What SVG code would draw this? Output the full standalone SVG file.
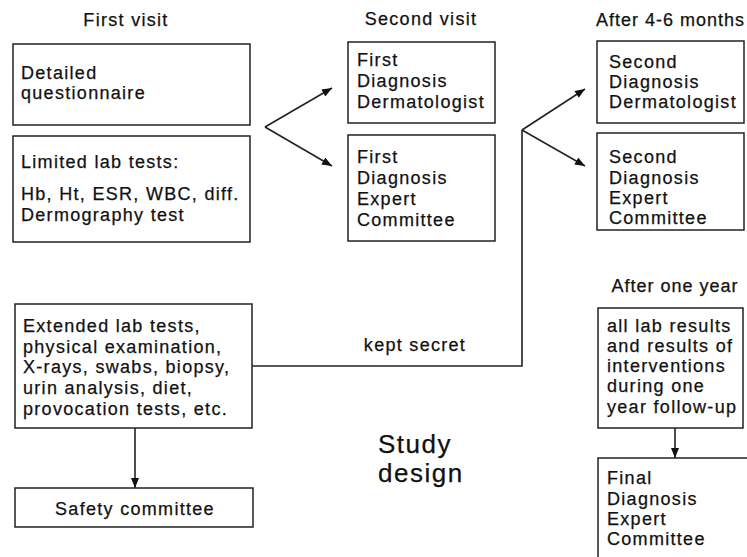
<svg xmlns="http://www.w3.org/2000/svg" width="747" height="557" viewBox="0 0 747 557">
<style>
text{font-family:"Liberation Sans",Arial,sans-serif;font-size:18px;letter-spacing:1.3px;fill:#111;stroke:#111;stroke-width:0.25}
.box{fill:#fff;stroke:#222;stroke-width:1.5}
.c{fill:none;stroke:#222;stroke-width:1.6}
.big{font-size:26px;letter-spacing:1.5px}
.tight{letter-spacing:1px}
</style>
<defs>
<marker id="ah" viewBox="0 0 10 8" refX="10" refY="4" markerWidth="11" markerHeight="8" markerUnits="userSpaceOnUse" orient="auto">
<path d="M0,0 L10,4 L0,8 z" fill="#111"/>
</marker>
</defs>
<rect width="747" height="557" fill="#fff"/>
<g id="headers">
<text x="126" y="26" text-anchor="middle">First visit</text>
<text x="421" y="25" text-anchor="middle">Second visit</text>
<text class="tight" x="596" y="26">After 4-6 months</text>
<text class="tight" x="675" y="292" text-anchor="middle">After one year</text>
</g>
<g id="connectors">
<line class="c" x1="265" y1="127" x2="332" y2="88" marker-end="url(#ah)"/>
<line class="c" x1="265" y1="127" x2="332" y2="166" marker-end="url(#ah)"/>
<polyline class="c" points="252,366 522,366 522,130"/>
<line class="c" x1="522" y1="130" x2="585" y2="89" marker-end="url(#ah)"/>
<line class="c" x1="522" y1="130" x2="585" y2="166" marker-end="url(#ah)"/>
<line class="c" x1="135" y1="428" x2="135" y2="488" marker-end="url(#ah)"/>
<line class="c" x1="675" y1="428" x2="675" y2="458" marker-end="url(#ah)"/>
<text x="415" y="351" text-anchor="middle">kept secret</text>
</g>
<g id="questionnaire">
<rect class="box" x="13" y="44" width="237" height="81"/>
<text x="21" y="79">Detailed</text>
<text x="21" y="99">questionnaire</text>
</g>
<g id="limited-lab">
<rect class="box" x="13" y="136" width="237" height="106"/>
<text x="21" y="168">Limited lab tests:</text>
<text x="21" y="200">Hb, Ht, ESR, WBC, diff.</text>
<text x="21" y="221">Dermography test</text>
</g>
<g id="first-diag-derm">
<rect class="box" x="348" y="42" width="147" height="81"/>
<text x="357" y="66">First</text>
<text x="357" y="87">Diagnosis</text>
<text x="357" y="108">Dermatologist</text>
</g>
<g id="first-diag-expert">
<rect class="box" x="348" y="135" width="147" height="106"/>
<text x="357" y="163">First</text>
<text x="357" y="184">Diagnosis</text>
<text x="357" y="205">Expert</text>
<text x="357" y="226">Committee</text>
</g>
<g id="second-diag-derm">
<rect class="box" x="597" y="41" width="147" height="82"/>
<text x="609" y="68">Second</text>
<text x="609" y="88">Diagnosis</text>
<text x="609" y="108">Dermatologist</text>
</g>
<g id="second-diag-expert">
<rect class="box" x="597" y="133" width="147" height="97"/>
<text x="609" y="163">Second</text>
<text x="609" y="184">Diagnosis</text>
<text x="609" y="204">Expert</text>
<text x="609" y="224">Committee</text>
</g>
<g id="extended-lab">
<rect class="box" x="15" y="304" width="237" height="124"/>
<text x="23" y="332">Extended lab tests,</text>
<text x="23" y="353">physical examination,</text>
<text x="23" y="373">X-rays, swabs, biopsy,</text>
<text x="23" y="394">urin analysis, diet,</text>
<text x="23" y="415">provocation tests, etc.</text>
</g>
<g id="safety">
<rect class="box" x="15" y="488" width="238" height="39"/>
<text x="135" y="515" text-anchor="middle">Safety committee</text>
</g>
<g id="all-lab">
<rect class="box" x="598" y="308" width="145" height="120"/>
<text x="607" y="332">all lab results</text>
<text x="607" y="352">and results of</text>
<text x="607" y="372">interventions</text>
<text x="607" y="392">during one</text>
<text x="607" y="413">year follow-up</text>
</g>
<g id="final-diag">
<rect class="box" x="598" y="458" width="170" height="120"/>
<text x="607" y="484">Final</text>
<text x="607" y="505">Diagnosis</text>
<text x="607" y="525">Expert</text>
<text x="607" y="545">Committee</text>
</g>
<g id="title">
<text class="big" x="378" y="453">Study</text>
<text class="big" x="378" y="482">design</text>
</g>
</svg>
